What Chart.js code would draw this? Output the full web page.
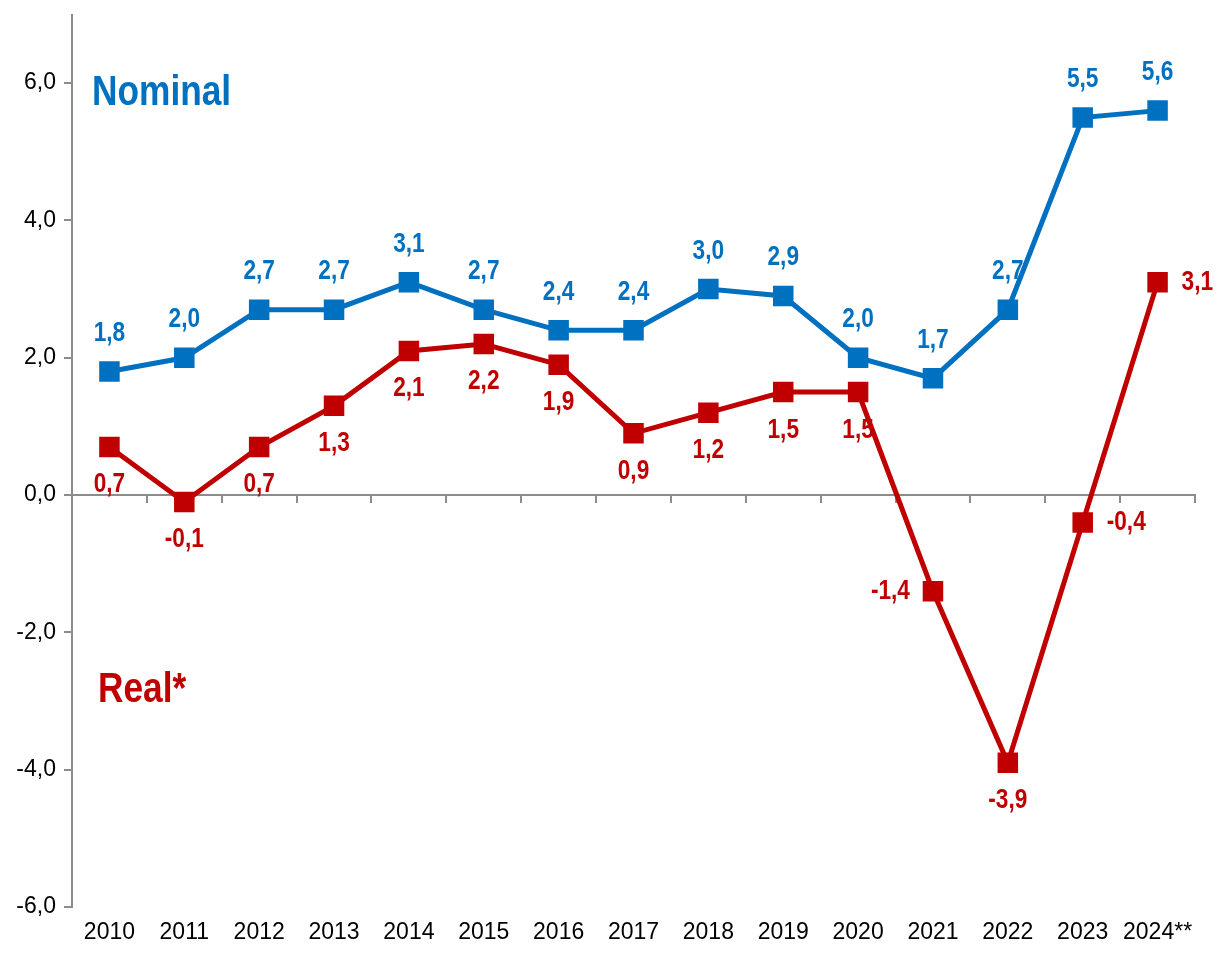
<!DOCTYPE html>
<html><head><meta charset="utf-8">
<script src="https://cdn.jsdelivr.net/npm/chart.js@4"></script>
<style>html,body{margin:0;padding:0;background:#fff}#wrap{width:1225px;height:953px}</style>
</head><body><div id="wrap"><canvas id="c" width="1225" height="953"></canvas></div>
<script>
const years = ["2010","2011","2012","2013","2014","2015","2016","2017","2018","2019","2020","2021","2022","2023","2024**"];
const nominal = [1.8,2.0,2.7,2.7,3.1,2.7,2.4,2.4,3.0,2.9,2.0,1.7,2.7,5.5,5.6];
const real = [0.7,-0.1,0.7,1.3,2.1,2.2,1.9,0.9,1.2,1.5,1.5,-1.4,-3.9,-0.4,3.1];
// label placement per point for the real series: 'below', 'left', 'right'
const realLabelPos = ["below","below","below","below","below","below","below","below","below","below","below","left","below","right","right"];
const yTicks = [-6,-4,-2,0,2,4,6];

const BLUE = "#0070C0", RED = "#C00000", AXIS = "#8c8c8c";
const FONT = "'Liberation Sans Narrow','Arial Narrow','Liberation Sans',Arial,sans-serif";
const fmt = v => v.toFixed(1).replace('.', ',');
const SX = 0.84; // horizontal condensing for bold labels

function condensedText(ctx, text, x, y, align) {
  const w = ctx.measureText(text).width * SX;
  let left = x;
  if (align === 'center') left = x - w / 2;
  else if (align === 'right') left = x - w;
  ctx.save();
  ctx.translate(left, y);
  ctx.scale(SX, 1);
  ctx.textAlign = 'left';
  ctx.fillText(text, 0, 0);
  ctx.restore();
}

const labelPlugin = {
  id: 'labels',
  afterDatasetsDraw(chart) {
    const ctx = chart.ctx;
    ctx.save();
    ctx.font = "bold 27px " + FONT;
    ctx.textBaseline = 'middle';
    chart.data.datasets.forEach((ds, di) => {
      const meta = chart.getDatasetMeta(di);
      meta.data.forEach((pt, i) => {
        const v = ds.data[i];
        ctx.fillStyle = ds.borderColor;
        let x = pt.x, y = pt.y, align = 'center';
        if (di === 0) { y -= 38; }
        else {
          const p = realLabelPos[i];
          if (p === 'below') y += 38;
          else if (p === 'left') { align = 'right'; x -= 23; }
          else { align = 'left'; x += 24; }
        }
        condensedText(ctx, fmt(v), x, y, align);
      });
    });
    // series titles
    const ca = chart.chartArea, ys = chart.scales.y;
    ctx.font = "bold 42px " + FONT;
    ctx.fillStyle = BLUE;
    condensedText(ctx, "Nominal", ca.left + 20, ys.getPixelForValue(5.85), 'left');
    ctx.fillStyle = RED;
    condensedText(ctx, "Real*", ca.left + 26, ys.getPixelForValue(-2.85), 'left');
    ctx.restore();
  }
};

new Chart(document.getElementById('c'), {
  type: 'line',
  data: {
    labels: years,
    datasets: [
      { label: 'Nominal', data: nominal, borderColor: BLUE, backgroundColor: BLUE, borderWidth: 5,
        pointStyle: 'rect', pointRadius: 14.5, pointHoverRadius: 14.5, pointBorderWidth: 0, tension: 0 },
      { label: 'Real*', data: real, borderColor: RED, backgroundColor: RED, borderWidth: 5,
        pointStyle: 'rect', pointRadius: 14.5, pointHoverRadius: 14.5, pointBorderWidth: 0, tension: 0 }
    ]
  },
  options: {
    responsive: false,
    animation: false,
    events: [],
    layout: { padding: { top: 7, right: 30, left: 0, bottom: 0 } },
    plugins: { legend: { display: false }, tooltip: { enabled: false } },
    scales: {
      x: {
        type: 'category', position: 'bottom', offset: true,
        grid: { display: false, drawTicks: false },
        border: { display: false },
        ticks: { color: '#000', font: { family: FONT, size: 23 }, padding: 12, maxRotation: 0, autoSkip: false },
        afterFit(s) { s.height = 46; s.paddingLeft = 0; s.paddingRight = 0; }
      },
      x2: {
        type: 'category', position: { y: 0 }, offset: true, labels: years,
        grid: { display: true, drawOnChartArea: false, drawTicks: true, tickLength: 7, color: AXIS, lineWidth: 2, offset: true },
        border: { display: true, color: AXIS, width: 2 },
        ticks: { display: false }
      },
      y: {
        min: -6, max: 7,
        afterBuildTicks(s) { s.ticks = yTicks.map(v => ({ value: v })); },
        grid: { display: true, drawOnChartArea: false, drawTicks: true, tickLength: 8, color: AXIS, lineWidth: 2 },
        border: { display: true, color: AXIS, width: 2 },
        ticks: { color: '#000', font: { family: FONT, size: 23 }, padding: 8, callback: v => fmt(v) },
        afterFit(s) { s.width = 72; s.paddingTop = 0; s.paddingBottom = 0; }
      }
    }
  },
  plugins: [labelPlugin]
});
</script>
</body></html>
